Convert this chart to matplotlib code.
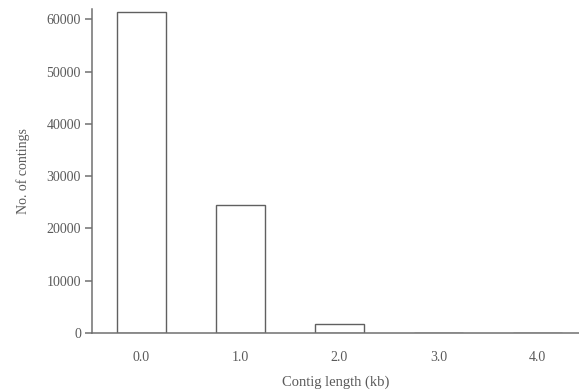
import matplotlib.pyplot as plt
import numpy as np

plt.rcParams["font.family"] = ["Liberation Serif", "DejaVu Serif"]

lengths = ["0.0", "1.0", "2.0", "3.0", "4.0"]
counts = [61400, 24500, 1700, 0, 0]

fig = plt.figure(figsize=(5.79, 3.92), dpi=100)
ax = fig.add_axes([0.159, 0.1505, 0.841, 0.8265])

x = np.arange(len(lengths))
ax.bar(x, counts, width=0.5, facecolor="white", edgecolor="#606060", linewidth=1.0)

ax.set_xlim(-0.5, 4.42)
ax.set_ylim(0, 62000)
ax.set_xticks(x)
ax.set_xticklabels(lengths)
ax.set_yticks(np.arange(0, 60001, 10000))

for side in ("top", "right"):
    ax.spines[side].set_visible(False)
for side in ("left", "bottom"):
    ax.spines[side].set_color("#707070")
    ax.spines[side].set_linewidth(1.1)

ax.tick_params(axis="x", length=0, pad=13, labelsize=10, colors="#5a5a5a")
ax.tick_params(axis="y", length=5, width=1.1, color="#707070", labelsize=10,
               labelcolor="#5a5a5a", pad=3)

ax.set_xlabel("Contig length (kb)", fontsize=10.5, color="#5a5a5a", labelpad=8)
ax.set_ylabel("No. of contings", fontsize=10, color="#5a5a5a", labelpad=12)

fig.savefig("out.png", dpi=100)
